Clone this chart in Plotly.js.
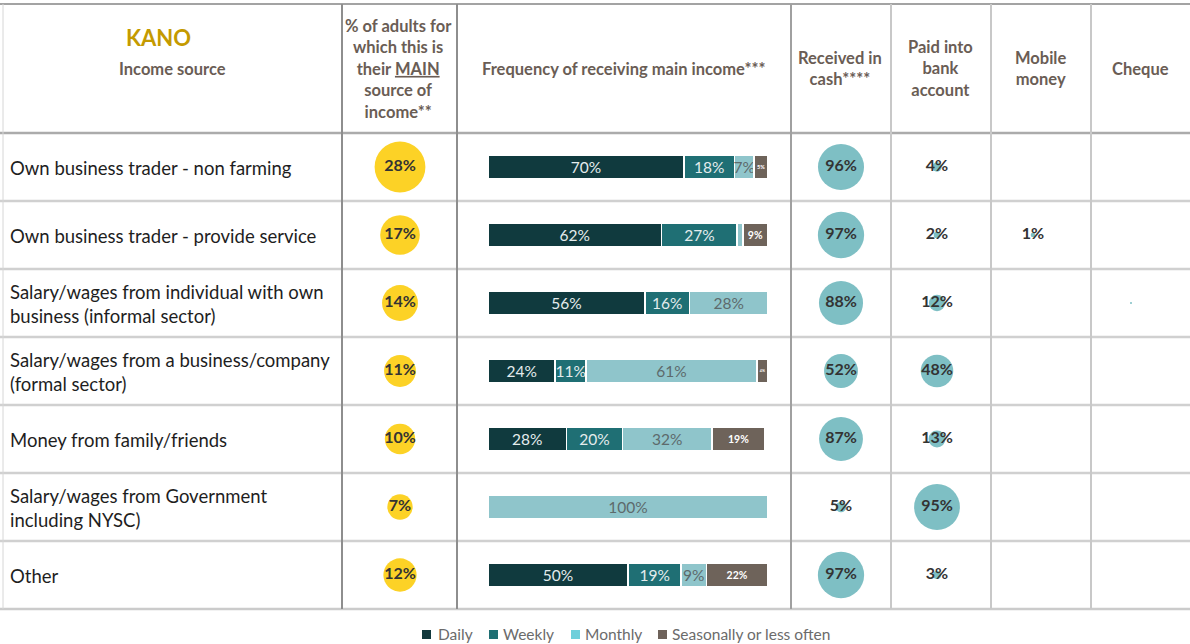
<!DOCTYPE html>
<html>
<head>
<meta charset="utf-8">
<script src="https://cdn.plot.ly/plotly-3.0.1.min.js"></script>
<style>html,body{margin:0;padding:0;background:#fff;overflow:hidden;}#chart{width:1190px;height:644px;}</style>
</head>
<body>
<div id="chart"></div>
<script>
// ---- DATA ----
const categories = [
  "Own business trader - non farming",
  "Own business trader - provide service",
  "Salary/wages from individual with own<br>business (informal sector)",
  "Salary/wages from a business/company<br>(formal sector)",
  "Money from family/friends",
  "Salary/wages from Government<br>including NYSC)",
  "Other"
];
const mainShare = [28, 17, 14, 11, 10, 7, 12];
const daily     = [70, 62, 56, 24, 28, 0, 50];
const weekly    = [18, 27, 16, 11, 20, 0, 19];
const monthly   = [7, 2, 28, 61, 32, 100, 9];
const seasonal  = [5, 9, 0, 4, 19, 0, 22];
const cash      = [96, 97, 88, 52, 87, 5, 97];
const bank      = [4, 2, 12, 48, 13, 95, 3];
const mobile    = [null, 1, null, null, null, null, null];
const cheque    = [null, null, 0, null, null, null, null];
const freqNames = ["Daily", "Weekly", "Monthly", "Seasonally or less often"];

// ---- LAYOUT HELPERS ----
const W = 1190, H = 644;
const px = x => x / W;
const py = y => 1 - y / H;
const rows = categories.map((c, i) => i);
const FONT = "Lato, 'Open Sans', sans-serif";
const HEAD = "#6a5d55";

const freqData = [daily, weekly, monthly, seasonal];
const freqColors = ["#103a3e", "#1f6f74", "#8fc5cb", "#6e635a"];
const legendColors = ["#12393d", "#1f6f73", "#6fcfdb", "#6e625a"];
const freqText = ["#e4eced", "#e4eced", "#5d6a6b", "#ffffff"];
const freqSize = [15.5, 15.5, 15.5, 10.5];

const traces = [];
freqData.forEach((vals, k) => {
  traces.push({
    type: "bar", orientation: "h", name: freqNames[k], showlegend: false,
    x: vals, y: rows, xaxis: "x", yaxis: "y",
    width: 0.36,
    marker: {color: freqColors[k], line: {color: "#ffffff", width: 1.5}},
    text: vals.map(v => v >= 3 ? v + "%" : ""),
    textposition: "inside", insidetextanchor: "middle", textangle: 0,
    constraintext: k === 3 ? "both" : "none",
    textfont: {family: FONT, size: freqSize[k], color: freqText[k], weight: k === 3 ? 700 : 400},
    hoverinfo: "skip", cliponaxis: false
  });
});

function bubbles(vals, xc, color, k) {
  const idx = [];
  vals.forEach((v, i) => { if (v !== null) idx.push(i); });
  return {
    type: "scatter", mode: "markers+text", showlegend: false,
    xaxis: "x2", yaxis: "y2",
    x: idx.map(() => xc), y: idx,
    marker: {color: color, opacity: 1, size: idx.map(i => Math.max(2, k * Math.sqrt(vals[i]))), sizemode: "diameter", line: {width: 0}},
    text: idx.map(i => vals[i] >= 1 ? "<b>" + vals[i] + "%</b>" : ""),
    textposition: "middle center",
    textfont: {family: FONT, size: 16, color: "#333333"},
    hoverinfo: "skip", cliponaxis: false
  };
}
traces.push(bubbles(mainShare, 400, "#fcd226", 9.6));
traces.push(bubbles(cash, 841, "#7ebfc4", 4.7));
traces.push(bubbles(bank, 937, "#7ebfc4", 4.7));
traces.push(bubbles(mobile, 1033, "#7ebfc4", 4.7));
traces.push(bubbles(cheque, 1131, "#7ebfc4", 4.7));

// ---- SHAPES (table grid) ----
const shapes = [];
function hline(y, color, w) {
  shapes.push({type: "line", xref: "paper", yref: "paper", x0: 0, x1: 1, y0: py(y), y1: py(y), line: {color: color, width: w}, layer: "below"});
}
function vline(x, color, w) {
  shapes.push({type: "line", xref: "paper", yref: "paper", x0: px(x), x1: px(x), y0: py(4), y1: py(609), line: {color: color, width: w}, layer: "below"});
}
hline(4, "#a3a3a3", 2);
hline(133, "#ababab", 2.5);
for (let k = 1; k < categories.length; k++) hline(133 + 68 * k, "#d0d0d0", 2.5);
hline(609, "#cbcbcb", 2.5);
vline(3, "#d6d6d6", 1);
vline(342, "#8e8e8e", 2);
vline(457, "#8e8e8e", 2);
vline(791, "#a0a0a0", 2);
vline(891, "#c8c8c8", 2);
vline(991, "#c8c8c8", 2);
vline(1091, "#c8c8c8", 2);

// ---- ANNOTATIONS ----
const ann = [];
function txt(x, y, t, opts) {
  ann.push(Object.assign({xref: "paper", yref: "paper", x: px(x), y: py(y), text: t, showarrow: false,
    xanchor: "center", yanchor: "middle", align: "center",
    font: {family: FONT, size: 16.5, color: HEAD}}, opts || {}));
}
txt(158, 38, "<b>KANO</b>", {font: {family: FONT, size: 22, color: "#c49a00"}});
txt(172, 69, "<b>Income source</b>");
txt(399, 69, "<b>% of adults for<br>which this is<br>their <span style='text-decoration:underline'>MAIN</span><br>source of<br>income**</b>");
txt(624, 69, "<b>Frequency of receiving main income***</b>");
txt(840, 69, "<b>Received in<br>cash****</b>");
txt(940, 69, "<b>Paid into<br>bank<br>account</b>");
txt(1040, 69, "<b>Mobile<br>money</b>");
txt(1140, 69, "<b>Cheque</b>");
categories.forEach((c, i) => {
  txt(8, 168 + 68 * i, c, {xanchor: "left", align: "left", font: {family: FONT, size: 18.5, color: "#1e1e1e"}});
});

// ---- LEGEND (drawn as key squares + labels) ----
const legSquareX = [422, 489, 571, 658];
const legTextX = [436, 501, 583, 670];
freqNames.forEach((n, k) => {
  shapes.push({type: "rect", xref: "paper", yref: "paper", x0: px(legSquareX[k]), x1: px(legSquareX[k] + 9),
    y0: py(639), y1: py(630), fillcolor: legendColors[k], line: {width: 0}});
  txt(legTextX[k], 634, n, {xanchor: "left", font: {family: FONT, size: 15.5, color: "#6b6b6b"}});
});

const layout = {
  width: W, height: H,
  margin: {l: 0, r: 0, t: 0, b: 0, pad: 0},
  paper_bgcolor: "#ffffff", plot_bgcolor: "rgba(0,0,0,0)",
  barmode: "stack", bargap: 0,
  showlegend: false,
  xaxis: {domain: [px(488), px(768)], range: [0, 100], visible: false, fixedrange: true},
  yaxis: {domain: [py(609), py(133)], range: [6.5, -0.5], visible: false, fixedrange: true},
  xaxis2: {domain: [0, 1], range: [0, W], visible: false, anchor: "y2", fixedrange: true},
  yaxis2: {domain: [py(609), py(133)], range: [6.5, -0.5], visible: false, anchor: "x2", fixedrange: true},
  shapes: shapes,
  annotations: ann,
  hovermode: false
};

Plotly.newPlot("chart", traces, layout, {displayModeBar: false, staticPlot: true});
</script>
</body>
</html>
